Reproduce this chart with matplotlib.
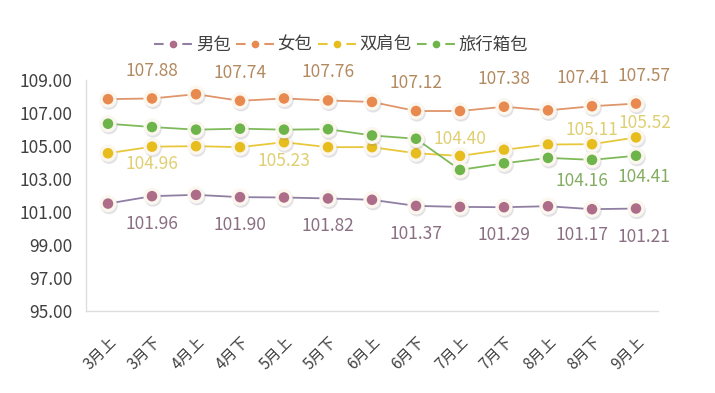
import matplotlib
matplotlib.use("Agg")
import matplotlib.pyplot as plt
import matplotlib.patheffects as pe
from matplotlib.lines import Line2D

plt.rcParams['font.family'] = ['Noto Sans CJK SC', 'DejaVu Sans']

categories = ["3月上", "3月下", "4月上", "4月下", "5月上", "5月下", "6月上",
              "6月下", "7月上", "7月下", "8月上", "8月下", "9月上"]
series_names = ["男包", "女包", "双肩包", "旅行箱包"]
men = [101.51, 101.96, 102.04, 101.90, 101.88, 101.82, 101.74,
       101.37, 101.31, 101.29, 101.35, 101.17, 101.21]
women = [107.84, 107.88, 108.14, 107.74, 107.88, 107.76, 107.67,
         107.12, 107.12, 107.38, 107.16, 107.41, 107.57]
backpack = [104.56, 104.96, 104.99, 104.93, 105.23, 104.93, 104.93,
            104.56, 104.40, 104.77, 105.09, 105.11, 105.52]
luggage = [106.35, 106.15, 105.99, 106.05, 105.99, 106.02, 105.64,
           105.44, 103.55, 103.95, 104.28, 104.16, 104.41]
yticks = [95, 97, 99, 101, 103, 105, 107, 109]

line_colors = ["#8f7fa3", "#e0956a", "#e8c83a", "#7fba5a"]
marker_colors = ["#ad6d88", "#e88a50", "#e6bd1c", "#6db44a"]
label_colors = ["#8a6f82", "#b38a60", "#e0cf72", "#84ad62"]

# (series index, category index, dx px, dy px)
labels = [
    (0, 1, 0, -28), (0, 3, 0, -28), (0, 5, 0, -28), (0, 7, 0, -28),
    (0, 9, 0, -28), (0, 11, -10, -26), (0, 12, 8, -28),
    (1, 1, 0, 27), (1, 3, 0, 28), (1, 5, 0, 28), (1, 7, 0, 28),
    (1, 9, 0, 28), (1, 11, -9, 28), (1, 12, 8, 28),
    (2, 1, 0, -17), (2, 4, 0, -19), (2, 8, 0, 17), (2, 11, 0, 14), (2, 12, 9, 14),
    (3, 11, -10, -21), (3, 12, 8, -21),
]

W, H, DPI = 715, 393, 100
fig = plt.figure(figsize=(W / DPI, H / DPI), dpi=DPI)
ax = fig.add_axes([86 / W, 1 - 311 / H, 572 / W, (311 - 80) / H])

data = [men, women, backpack, luggage]
x = list(range(len(categories)))
shadow = [pe.SimpleLineShadow(offset=(0.8, -1.4), shadow_color="#7a7a90", alpha=0.22), pe.Normal()]
for i, vals in enumerate(data):
    ax.plot(x, vals, color=line_colors[i], lw=1.3, zorder=2)
    ax.plot(x, vals, ls="none", marker="o", ms=10, mfc=marker_colors[i],
            mec="#fbf6ee", mew=2.4, zorder=3 + i * 0.1, clip_on=False,
            path_effects=shadow)

for si, ci, dx, dy in labels:
    v = data[si][ci]
    ax.annotate(f"{v:.2f}", (ci, v), xytext=(dx * 72 / DPI, dy * 72 / DPI),
                textcoords="offset points", ha="center", va="center",
                fontsize=12.5, color=label_colors[si], zorder=6)

ax.set_xlim(-0.5, len(categories) - 0.5)
ax.set_ylim(95, 109)
ax.set_yticks(yticks)
ax.set_yticklabels([f"{t:.2f}" for t in yticks])
ax.set_xticks(x)
ax.set_xticklabels(categories, rotation=45, ha="right", rotation_mode="anchor")
ax.tick_params(axis="y", length=0, labelsize=12.5, labelcolor="#404040", pad=9.5)
ax.tick_params(axis="x", length=0, labelsize=11, labelcolor="#404040", pad=16)
for s in ["top", "right"]:
    ax.spines[s].set_visible(False)
for s in ["left", "bottom"]:
    ax.spines[s].set_color("#dedede")
    ax.spines[s].set_linewidth(1)

handles = [Line2D([], [], color=line_colors[i], lw=1.5, ls=(0, (4.6, 9.0, 4.6, 10)),
                  marker="o", ms=4.5, mfc=marker_colors[i], mec=marker_colors[i])
           for i in range(4)]
fig.legend(handles, series_names, loc="center", bbox_to_anchor=(341 / W, 1 - 45 / H),
           ncol=4, frameon=False, fontsize=12.5, handlelength=2.2, handletextpad=0.2,
           columnspacing=0.3, labelcolor="#404040")

fig.savefig("out.png", dpi=DPI, facecolor="white")
